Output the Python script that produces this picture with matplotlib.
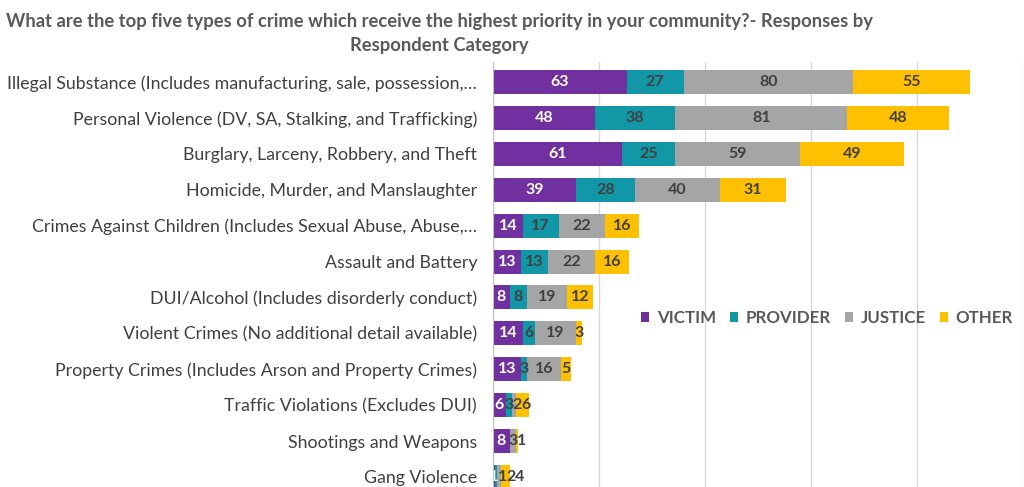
import numpy as np
import matplotlib.pyplot as plt

plt.rcParams['font.family'] = ['Lato', 'DejaVu Sans']

categories = [
    'Illegal Substance (Includes manufacturing, sale, possession,…',
    'Personal Violence (DV, SA, Stalking, and Trafficking)',
    'Burglary, Larceny, Robbery, and Theft',
    'Homicide, Murder, and Manslaughter',
    'Crimes Against Children (Includes Sexual Abuse, Abuse,…',
    'Assault and Battery',
    'DUI/Alcohol (Includes disorderly conduct)',
    'Violent Crimes (No additional detail available)',
    'Property Crimes (Includes Arson and Property Crimes)',
    'Traffic Violations (Excludes DUI)',
    'Shootings and Weapons',
    'Gang Violence',
]
victim = [63, 48, 61, 39, 14, 13, 8, 14, 13, 6, 8, 1]
provider = [27, 38, 25, 28, 17, 13, 8, 6, 3, 3, 0, 1]
justice = [80, 81, 59, 40, 22, 22, 19, 19, 16, 2, 3, 2]
other = [55, 48, 49, 31, 16, 16, 12, 3, 5, 6, 1, 4]

series = [('VICTIM', victim, '#7030A0', 'white'),
          ('PROVIDER', provider, '#1297A6', '#404040'),
          ('JUSTICE', justice, '#A5A5A5', '#404040'),
          ('OTHER', other, '#FFC000', '#404040')]

fig = plt.figure(figsize=(10.24, 4.87), dpi=100)
ax = fig.add_axes([493 / 1024, 0, 530 / 1024, 1 - 62 / 487])

y = np.arange(len(categories))
left = np.zeros(len(categories))
# last label right edge per row, so small segments don't stack labels on top of each other
last_right = np.full(len(categories), -10.0)
digit_w = 4.0  # approx width of one bold digit in data units
for name, vals, col, tcol in series:
    vals = np.array(vals)
    bars = ax.barh(y, vals, left=left, height=0.67, color=col, label=name, zorder=3)
    for i, (b, v) in enumerate(zip(bars, vals)):
        if v <= 0:
            continue
        half = digit_w * len(str(v)) / 2
        cx = b.get_x() + b.get_width() / 2
        cx = max(cx, last_right[i] + half)
        last_right[i] = cx + half
        ax.text(cx, y[i], str(v), ha='center', va='center', color=tcol,
                fontsize=11.5, fontweight='bold', zorder=4)
    left += vals

ax.set_xlim(0, 250)
ax.set_ylim(len(categories) - 1 + 0.28, -0.56)
ax.set_yticks(y)
ax.set_yticklabels(categories, fontsize=12.75, color='#404040')
ax.tick_params(axis='y', length=0, pad=11.5)
ax.set_xticks(np.arange(0, 251, 50))
ax.tick_params(axis='x', length=0, labelbottom=False)
ax.grid(axis='x', color='#D9D9D9', linewidth=1, zorder=0)
for s in ['top', 'right', 'bottom']:
    ax.spines[s].set_visible(False)
ax.spines['left'].set_color('#BFBFBF')
ax.spines['left'].set_zorder(5)

ax.legend(loc='center left', bbox_to_anchor=(641 / 1024, 1 - 318 / 487),
          bbox_transform=fig.transFigure, ncol=4, frameon=False,
          handlelength=0.5, handleheight=0.5, handletextpad=0.45, columnspacing=0.8,
          borderaxespad=0, borderpad=0,
          prop={'size': 12.2, 'weight': 'bold'}, labelcolor='#595959')

fig.text(0.429, 0.955, 'What are the top five types of crime which receive the highest priority in your community?- Responses by',
         ha='center', va='center', fontsize=13.2, fontweight='bold', color='#595959')
fig.text(0.429, 0.907, 'Respondent Category', ha='center', va='center', fontsize=13.2,
         fontweight='bold', color='#595959')

fig.savefig('out.png', dpi=100)
